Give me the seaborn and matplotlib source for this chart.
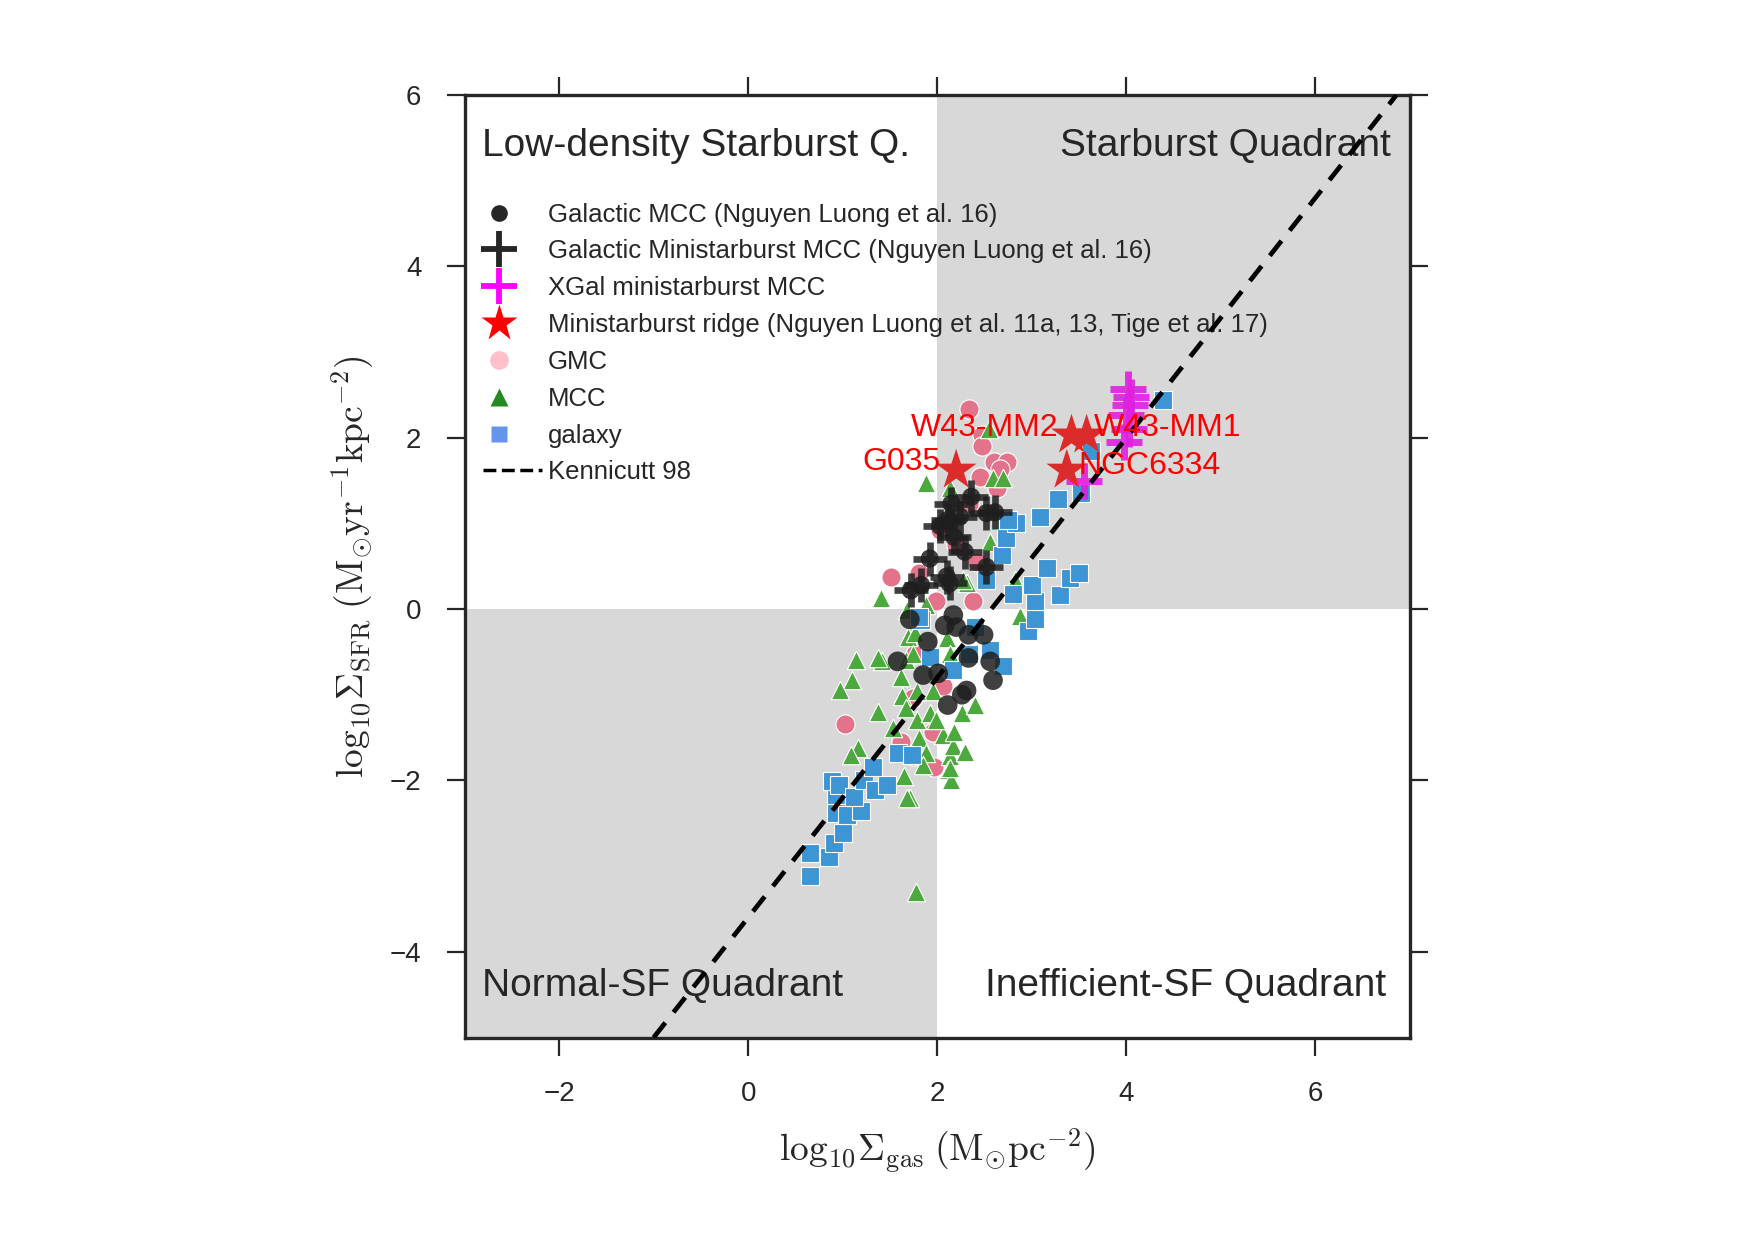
import matplotlib
matplotlib.use("Agg")
import matplotlib.pyplot as plt
import seaborn as sns
from matplotlib.lines import Line2D
from matplotlib.legend_handler import HandlerLine2D

# ---------------- data ----------------
gmc_x = [2.34, 2.47, 2.47, 2.60, 2.74, 2.66, 2.45, 2.63, 1.51, 2.03, 2.34, 1.81,
         1.99, 2.38, 1.76, 1.74, 2.06, 1.97, 1.95, 1.02, 1.62, 1.74, 2.20, 2.42]
gmc_y = [2.34, 2.03, 1.90, 1.72, 1.72, 1.64, 1.54, 1.41, 0.38, 0.92, 1.23, 0.42,
         0.10, 0.10, -0.52, -1.04, -0.90, -1.84, -1.43, -1.34, -1.55, -1.72, 0.75, 0.55]

mcc_x = [1.14, 1.42, 1.37, 1.10, 0.97, 1.37, 1.16, 1.09, 1.65, 1.71, 1.68, 1.53,
         1.63, 1.67, 1.69, 1.62, 1.79, 1.81, 1.92, 1.88, 1.85, 2.06, 2.13, 2.17,
         1.99, 2.11, 2.15, 2.26, 2.18, 2.40, 2.29, 2.10, 2.13, 1.95, 1.79, 1.67,
         1.74, 1.76, 1.78, 2.87, 2.82, 1.88, 2.13, 2.59, 2.70, 2.55, 1.41, 2.31,
         1.88, 2.27, 2.56, 2.13, 1.68]
mcc_y = [-0.59, -0.61, -0.57, -0.83, -0.94, -1.20, -1.62, -1.70, -1.95, -2.20, -2.20, -1.39,
         -1.02, -1.15, -0.32, -0.79, -1.29, -1.51, -1.21, -1.68, -1.82, -1.47, -1.72, -1.60,
         -1.29, -1.88, -1.99, -1.21, -1.43, -1.12, -1.67, -0.34, -0.52, -0.96, -0.96, -0.59,
         -0.52, -0.28, -3.30, -0.08, 0.34, 1.47, 1.41, 1.53, 1.53, 2.10, 0.13, 0.30,
         0.05, 0.34, 0.78, -1.86, -0.01]

galaxy_x = [0.65, 0.65, 0.86, 0.91, 1.00, 0.93, 1.05, 1.19, 0.93, 0.89, 0.96, 1.12,
            1.23, 1.34, 1.47, 1.32, 1.58, 1.73, 1.83, 1.92, 2.17, 2.34, 2.40, 2.56,
            2.70, 2.52, 2.96, 3.03, 3.03, 3.00, 2.80, 3.16, 3.30, 3.40, 3.50, 2.68,
            2.73, 2.83, 3.09, 3.28, 3.52, 3.63, 4.39, 2.75, 1.81]
galaxy_y = [-3.12, -2.85, -2.89, -2.73, -2.61, -2.38, -2.40, -2.36, -2.17, -2.01, -2.05, -2.19,
            -1.99, -2.11, -2.05, -1.84, -1.68, -1.70, -0.13, -0.56, -0.71, -0.52, -0.21, -0.48,
            -0.67, 0.34, -0.25, -0.11, 0.09, 0.28, 0.18, 0.48, 0.16, 0.36, 0.42, 0.63,
            0.83, 1.01, 1.08, 1.29, 1.36, 1.85, 2.44, 1.04, -0.09]

gal_mcc_x = [1.58, 1.85, 2.01, 2.11, 2.26, 1.90, 1.71, 2.08, 2.33, 2.49, 2.33, 2.20,
             2.56, 2.59, 2.17, 2.31]
gal_mcc_y = [-0.61, -0.77, -0.75, -1.12, -1.00, -0.38, -0.12, -0.19, -0.30, -0.30, -0.57, -0.21,
             -0.61, -0.83, -0.07, -0.95]

gal_msb_x = [1.92, 1.83, 1.72, 2.13, 2.15, 2.24, 2.36, 2.11, 2.52, 2.61, 2.18, 2.29, 2.52, 2.10, 2.03]
gal_msb_y = [0.59, 0.28, 0.22, 0.30, 1.23, 1.08, 1.31, 1.04, 1.12, 1.13, 0.84, 0.67, 0.49, 0.38, 0.97]

xgal_x = [4.02, 4.05, 4.04, 4.00, 4.03, 3.97, 3.55]
xgal_y = [2.57, 2.48, 2.38, 2.27, 2.10, 1.95, 1.50]

ridge_names = ["G035", "W43-MM2", "W43-MM1", "NGC6334"]
ridge_x = [2.20, 3.42, 3.58, 3.37]
ridge_y = [1.62, 2.03, 2.03, 1.62]

kennicutt_x = [-1.0, 6.857]
kennicutt_y = [-5.0, 6.0]

gas_threshold = 2.0
sfr_threshold = 0.0
x_limits = (-3, 7)
y_limits = (-5, 6)
x_ticks = [-2, 0, 2, 4, 6]
y_ticks = [-4, -2, 0, 2, 4, 6]

quadrant_labels = ["Low-density Starburst Q.", "Starburst Quadrant",
                   "Normal-SF Quadrant", "Inefficient-SF Quadrant"]
legend_labels = ["Galactic MCC (Nguyen Luong et al. 16)",
                 "Galactic Ministarburst MCC (Nguyen Luong et al. 16)",
                 "XGal ministarburst MCC",
                 "Ministarburst ridge (Nguyen Luong et al. 11a, 13, Tige et al. 17)",
                 "GMC", "MCC", "galaxy", "Kennicutt 98"]


class LeftMarkerHandler(HandlerLine2D):
    """Place the single legend marker left of the handle centre."""
    def get_xdata(self, legend, xdescent, ydescent, width, height, fontsize):
        x0 = -xdescent
        return [x0, x0 + 0.56 * width], [x0 + 0.28 * width]


# ---------------- style ----------------
sns.set_theme(style="ticks")
plt.rcParams["font.family"] = ["Liberation Sans", "DejaVu Sans"]
plt.rcParams["mathtext.fontset"] = "cm"

fig = plt.figure(figsize=(17.55, 12.4), dpi=100)
ax = fig.add_axes([0.2647, 0.1633, 0.5387, 0.7601])
ax.set_xlim(*x_limits)
ax.set_ylim(*y_limits)

gray = "#d8d8d8"
ax.fill_between([gas_threshold, x_limits[1]], sfr_threshold, y_limits[1],
                color=gray, lw=0, zorder=0)
ax.fill_between([x_limits[0], gas_threshold], y_limits[0], sfr_threshold,
                color=gray, lw=0, zorder=0)

ax.set_axisbelow(False)

sns.scatterplot(x=gmc_x, y=gmc_y, ax=ax, marker="o", s=190, color="#e2738b",
                edgecolor="white", linewidth=0.8, zorder=2, legend=False)
sns.scatterplot(x=mcc_x, y=mcc_y, ax=ax, marker="^", s=175, color="#4ca93d",
                edgecolor="white", linewidth=0.8, zorder=3, legend=False)
sns.scatterplot(x=galaxy_x, y=galaxy_y, ax=ax, marker="s", s=185, color="#3e95d4",
                edgecolor="white", linewidth=0.8, zorder=4, legend=False)
sns.scatterplot(x=gal_mcc_x, y=gal_mcc_y, ax=ax, marker="o", s=200, color="#1e1e1e",
                alpha=0.85, edgecolor="none", linewidth=0, zorder=5, legend=False)
sns.scatterplot(x=gal_msb_x, y=gal_msb_y, ax=ax, marker="o", s=170, color="#1e1e1e",
                alpha=0.85, edgecolor="none", linewidth=0, zorder=5, legend=False)
sns.scatterplot(x=gal_msb_x, y=gal_msb_y, ax=ax, marker="+", s=620, color="#1e1e1e",
                alpha=0.85, linewidth=4.8, zorder=6, legend=False)
sns.scatterplot(x=xgal_x, y=xgal_y, ax=ax, marker="+", s=650, color="#e020e0",
                alpha=0.9, linewidth=5, zorder=6, legend=False)
sns.scatterplot(x=ridge_x, y=ridge_y, ax=ax, marker="*", s=950, color="#dc2b2b",
                edgecolor="none", linewidth=0, zorder=8, legend=False)
sns.lineplot(x=kennicutt_x, y=kennicutt_y, ax=ax, color="black", lw=3.4,
             linestyle=(0, (4, 2.8)), zorder=7)

# annotations for ridge stars
offsets = [(-11.5, 6, "right"), (-9.5, 5.5, "right"), (5, 5.5, "left"), (8, 3, "left")]
for name, xv, yv, (dx, dy, ha) in zip(ridge_names, ridge_x, ridge_y, offsets):
    ax.annotate(name, xy=(xv, yv), xytext=(dx, dy), textcoords="offset points",
                ha=ha, va="center", color="red", fontsize=23, zorder=9)

# quadrant labels
qfs = 28
ax.text(0.018, 0.946, quadrant_labels[0], transform=ax.transAxes, ha="left",
        va="center", fontsize=qfs, color=".15")
ax.text(0.98, 0.946, quadrant_labels[1], transform=ax.transAxes, ha="right",
        va="center", fontsize=qfs, color=".15")
ax.text(0.018, 0.055, quadrant_labels[2], transform=ax.transAxes, ha="left",
        va="center", fontsize=qfs, color=".15")
ax.text(0.975, 0.055, quadrant_labels[3], transform=ax.transAxes, ha="right",
        va="center", fontsize=qfs, color=".15")

# legend
handles = [
    Line2D([], [], ls="none", marker="o", ms=12, color="#262626", mec="none"),
    Line2D([], [], ls="none", marker="+", ms=26, mew=4.2, color="#262626"),
    Line2D([], [], ls="none", marker="+", ms=26, mew=4.2, color="magenta"),
    Line2D([], [], ls="none", marker="*", ms=28, color="red", mec="none"),
    Line2D([], [], ls="none", marker="o", ms=13.5, color="pink", mec="none"),
    Line2D([], [], ls="none", marker="^", ms=13, color="forestgreen", mec="none"),
    Line2D([], [], ls="none", marker="s", ms=12, color="cornflowerblue", mec="none"),
    Line2D([], [], ls="--", lw=2.5, color="black"),
]
hmap = {h: LeftMarkerHandler(numpoints=1) for h in handles[:7]}
ax.legend(handles, legend_labels, loc="upper left", bbox_to_anchor=(0.0, 0.905),
          frameon=False, fontsize=18.5, handlelength=2.3, handletextpad=0.25,
          labelspacing=0.5, borderaxespad=0.4, borderpad=0.3, handler_map=hmap)

# axes styling
ax.set_xticks(x_ticks)
ax.set_yticks(y_ticks)
for sp in ax.spines.values():
    sp.set_linewidth(2.4)
    sp.set_color(".15")
    sp.set_visible(True)
ax.tick_params(axis="both", which="major", direction="out", length=13, width=1.6,
               color=".15", labelsize=20, pad=18, top=True, right=True,
               labeltop=False, labelright=False, labelcolor=".15")
ax.set_xlabel(r"$\mathrm{log}_{10}\Sigma_{\rm gas}\;(\rm M_{\odot}pc^{-2})$", fontsize=27,
              labelpad=14, color=".15")
ax.set_ylabel(r"$\mathrm{log}_{10}\Sigma_{\rm SFR}\;(\rm M_{\odot}yr^{-1}kpc^{-2})$", fontsize=27,
              labelpad=10, color=".15")

fig.savefig("out.png", dpi=100, facecolor="white")
